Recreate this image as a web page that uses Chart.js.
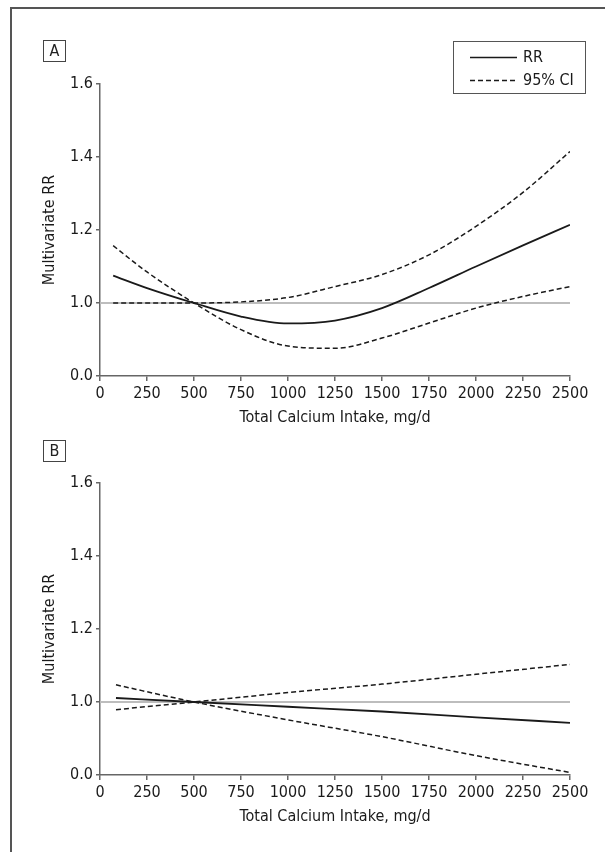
<!DOCTYPE html>
<html>
<head>
<meta charset="utf-8">
<script src="https://cdn.jsdelivr.net/npm/chart.js@4.4.1/dist/chart.umd.min.js"></script>
<style>
  body { margin: 0; background: #fff; width: 605px; height: 852px; overflow: hidden; position: relative;
         font-family: 'Liberation Sans Narrow', 'DejaVu Sans Condensed', sans-serif; }
  .frame { position: absolute; left: 10px; top: 7px; width: 700px; height: 900px;
           border-left: 2px solid #555; border-top: 2px solid #555; }
  .panel { position: absolute; left: 0; width: 605px; height: 427px; }
  .tag { position: absolute; left: 43px; width: 21px; height: 20px; border: 1px solid #444;
         font-size: 16px; line-height: 20px; text-align: center; color: #222; }
</style>
</head>
<body>
<div class="frame"></div>
<div class="panel" style="top:0"><canvas id="chartA" width="605" height="427"></canvas></div>
<div class="panel" style="top:399px"><canvas id="chartB" width="605" height="427"></canvas></div>
<div class="tag" style="top:40px">A</div>
<div class="tag" style="top:440px">B</div>
<script>
// x values, mg/d
const xA = [70, 250, 500, 750, 1000, 1250, 1500, 1750, 2000, 2250, 2500];
const rrA = [1.075, 1.041, 1.0, 0.963, 0.944, 0.952, 0.986, 1.041, 1.100, 1.158, 1.214];
const upperA = [1.0, 1.0, 1.0, 1.003, 1.015, 1.045, 1.078, 1.132, 1.21, 1.303, 1.415];
const lowerA = [1.157, 1.085, 1.0, 0.927, 0.882, 0.876, 0.904, 0.945, 0.986, 1.018, 1.045];

const xB = [85, 500, 1000, 1500, 2000, 2500];
const rrB = [1.011, 1.0, 0.987, 0.974, 0.958, 0.943];
const upperB = [0.979, 1.0, 1.026, 1.049, 1.076, 1.103];
const lowerB = [1.047, 1.0, 0.951, 0.905, 0.853, 0.807];

// broken axis: the bottom tick (0.8 on the scale) is labelled 0.0
const yTickValues = [0.8, 1.0, 1.2, 1.4, 1.6];
const yTickLabels = ['0.0', '1.0', '1.2', '1.4', '1.6'];
const refX = [0, 2500];
const refY = [1.0, 1.0];
const legendLabels = ['RR', '95% CI'];
const xTitle = 'Total Calcium Intake, mg/d';
const yTitle = 'Multivariate RR';

const FONT = "'Liberation Sans Narrow', 'DejaVu Sans Condensed', sans-serif";
const INK = '#1a1a1a';
const AXIS = '#666';

Chart.defaults.font.family = FONT;
Chart.defaults.color = INK;

function pts(xs, ys) {
    return xs.map((x, i) => ({ x: x, y: ys[i] }));
}

function line(data, dashed) {
    return {
        data: data,
        borderColor: INK,
        borderWidth: dashed ? 1.5 : 1.8,
        borderDash: dashed ? [5, 3] : [],
        pointRadius: 0,
        fill: false,
        cubicInterpolationMode: 'monotone',
    };
}

const legendBox = {
    id: 'legendBox',
    afterDraw(chart) {
        const ctx = chart.ctx;
        ctx.save();
        ctx.strokeStyle = '#555';
        ctx.lineWidth = 1;
        ctx.strokeRect(453.5, 41.5, 132, 52);
        const rows = [[legendLabels[0], [], 57], [legendLabels[1], [5, 3], 80]];
        ctx.font = '16px ' + FONT;
        ctx.textBaseline = 'middle';
        rows.forEach(([label, dash, y]) => {
            ctx.strokeStyle = INK;
            ctx.lineWidth = 1.5;
            ctx.setLineDash(dash);
            ctx.beginPath();
            ctx.moveTo(470, y + 0.5);
            ctx.lineTo(517, y + 0.5);
            ctx.stroke();
            ctx.fillStyle = INK;
            ctx.fillText(label, 523, y + 1);
        });
        ctx.restore();
    }
};

function makeChart(id, datasets, plugins) {
    return new Chart(document.getElementById(id), {
        type: 'line',
        data: { datasets: datasets },
        plugins: plugins,
        options: {
            responsive: false,
            animation: false,
            layout: { padding: { left: 40, right: 35, top: 84, bottom: 0 } },
            plugins: { legend: { display: false }, tooltip: { enabled: false } },
            scales: {
                x: {
                    type: 'linear',
                    min: 0,
                    max: 2500,
                    afterFit: (s) => { s.height = 51; },
                    grid: { drawOnChartArea: false, drawTicks: true, tickLength: 5, color: AXIS, lineWidth: 1.5 },
                    border: { display: true, color: AXIS, width: 1.5 },
                    ticks: { stepSize: 250, autoSkip: false, maxRotation: 0, padding: 3, font: { size: 16 }, color: INK,
                             callback: (v) => String(v) },
                    title: { display: true, text: xTitle, font: { size: 16 }, color: INK, padding: 0 },
                },
                y: {
                    type: 'linear',
                    min: 0.8,
                    max: 1.6,
                    afterFit: (s) => { s.width = 60; },
                    afterBuildTicks: (s) => { s.ticks = yTickValues.map(v => ({ value: v })); },
                    grid: { drawOnChartArea: false, drawTicks: true, tickLength: 4, color: AXIS, lineWidth: 1.5 },
                    border: { display: true, color: AXIS, width: 1.5 },
                    ticks: {
                        padding: 3,
                        font: { size: 16 },
                        color: INK,
                        callback: (v) => {
                            const i = yTickValues.findIndex(t => Math.abs(t - v) < 1e-6);
                            return i >= 0 ? yTickLabels[i] : '';
                        }
                    },
                    title: { display: true, text: yTitle, font: { size: 16 }, color: INK, padding: 0 },
                }
            }
        }
    });
}

function refLine() {
    return {
        data: pts(refX, refY),
        borderColor: '#bdbdbd',
        borderWidth: 2,
        pointRadius: 0,
        fill: false,
    };
}

makeChart('chartA', [
    line(pts(xA, rrA), false),
    line(pts(xA, upperA), true),
    line(pts(xA, lowerA), true),
    refLine(),
], [legendBox]);

makeChart('chartB', [
    line(pts(xB, rrB), false),
    line(pts(xB, upperB), true),
    line(pts(xB, lowerB), true),
    refLine(),
], []);
</script>
</body>
</html>
